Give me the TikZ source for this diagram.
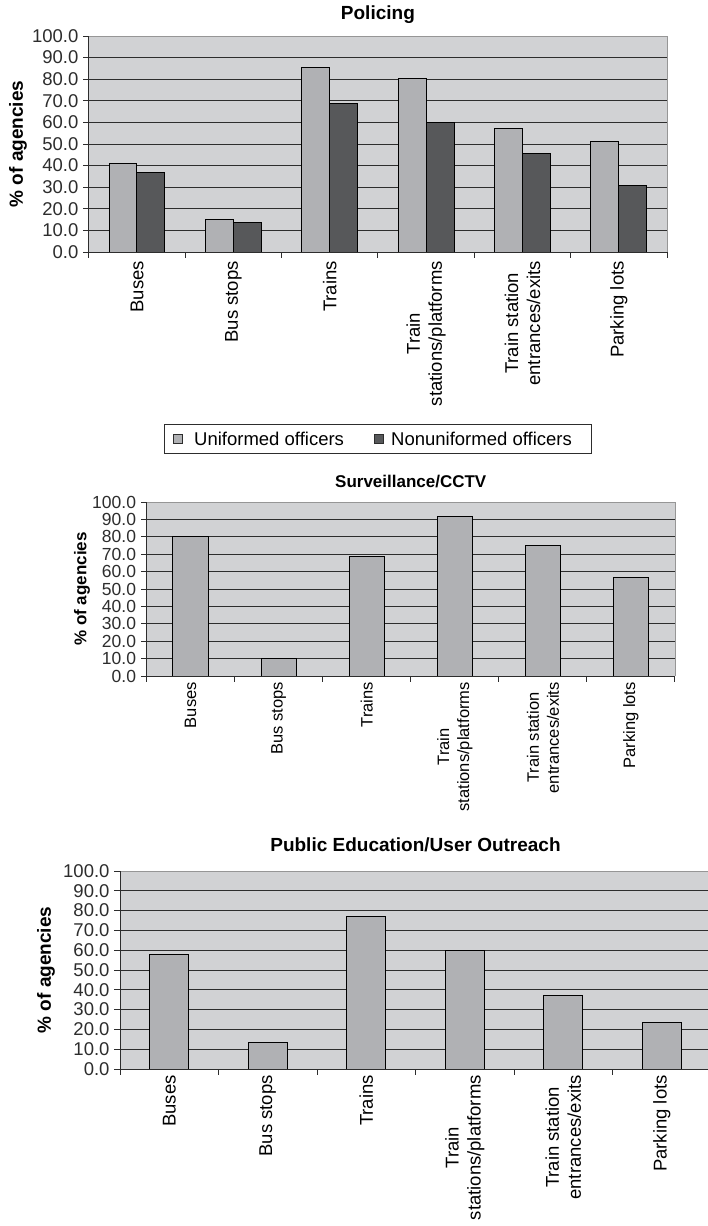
\documentclass[tikz,border=0pt]{standalone}
\usepackage{fontspec}
\setmainfont{Liberation Sans}
\usetikzlibrary{calc}
\definecolor{plotbg}{RGB}{209,210,212}
\definecolor{unibar}{RGB}{176,177,180}
\definecolor{nonbar}{RGB}{87,88,90}
\definecolor{gridln}{RGB}{45,45,45}
\definecolor{frameln}{RGB}{150,150,150}
\tikzset{
  plotarea/.style={fill=plotbg},
  gridline/.style={gridln, line width=.9pt},
  frameline/.style={frameln, line width=.9pt},
  axisline/.style={gridln, line width=1pt},
  bar/.style={draw=black, line width=1pt},
  ticklab/.style={left, inner sep=0pt, xshift=-4pt},
  catlab/.style={rotate=90, anchor=east, align=center, inner sep=0pt},
  ylab/.style={rotate=90, inner sep=0pt},
  bigtxt/.style={font=\fontsize{18.5}{22}\selectfont},
  smalltxt/.style={font=\fontsize{16.5}{20}\selectfont},
  bigbold/.style={font=\fontsize{19}{22}\selectfont\bfseries},
  smallbold/.style={font=\fontsize{17}{20}\selectfont\bfseries},
  legkey/.style={draw=gridln, line width=.8pt, minimum size=9pt, inner sep=0pt},
}
\begin{document}
\begin{tikzpicture}[x=1pt, y=1pt]
\useasboundingbox (0,0) rectangle (707,-1226);

% Policing
\begin{scope}[shift={(88.8,-252)}, x=96.37pt, y=2.16pt]
\fill[plotarea] (0,0) rectangle (6,100);
\foreach \v in {10,20,...,90} \draw[gridline] (0,\v) -- (6,\v);
\draw[frameline] (0,100) -- (6,100) -- (6,0);
\foreach \i/\u/\n in {1/40.8/36.9, 2/15.0/13.7, 3/85.6/68.7, 4/80.2/60.0, 5/57.4/45.7, 6/51.2/30.6} {
  \draw[bar, fill=unibar] (\i-.79,0) rectangle (\i-.5,\u);
  \draw[bar, fill=nonbar] (\i-.5,0) rectangle (\i-.21,\n);
}
\draw[axisline] (0,100) -- (0,0) -- (6,0);
\foreach \v in {0,10,...,100}
  \draw[axisline] (0,\v) -- ++(-6pt,0pt) node[ticklab, bigtxt] (p-t\v) {\v.0};
\foreach \i in {0,...,6} \draw[axisline] (\i,0) -- ++(0pt,-6pt);
\foreach \i/\lab in {1/Buses, 2/Bus stops, 3/Trains, 4/{Train\\stations/platforms}, 5/{Train station\\entrances/exits}, 6/Parking lots}
  \node[yshift=-9pt, catlab, bigtxt] (p-c\i) at (\i-.5,0) {\lab};
\node[xshift=-70.8pt, ylab, bigbold] (p-y) at (0,50) {\% of agencies};
\node[yshift=21pt, bigbold] (p-title) at (3,100) {Policing};
\end{scope}

% legend
\node[draw=gridln, line width=.8pt, minimum width=427pt, minimum height=29pt] (leg) at (378,-438.5) {};
\node[legkey, fill=unibar] (leg-k1) at (178,-438.5) {};
\node[right, inner sep=0pt, bigtxt] (leg-t1) at (194,-438.5) {Uniformed officers};
\node[legkey, fill=nonbar] (leg-k2) at (379,-438.5) {};
\node[right, inner sep=0pt, bigtxt] (leg-t2) at (391,-438.5) {Nonuniformed officers};

% Surveillance/CCTV
\begin{scope}[shift={(146.5,-676)}, x=88.08pt, y=1.74pt]
\fill[plotarea] (0,0) rectangle (6,100);
\foreach \v in {10,20,...,90} \draw[gridline] (0,\v) -- (6,\v);
\draw[frameline] (0,100) -- (6,100) -- (6,0);
\foreach \i/\u in {1/80.0, 2/10.0, 3/68.6, 4/91.7, 5/74.8, 6/56.5}
  \draw[bar, fill=unibar] (\i-.7,0) rectangle (\i-.3,\u);
\draw[axisline] (0,100) -- (0,0) -- (6,0);
\foreach \v in {0,10,...,100}
  \draw[axisline] (0,\v) -- ++(-6pt,0pt) node[ticklab, font=\fontsize{17.5}{20}\selectfont] (s-t\v) {\v.0};
\foreach \i in {0,...,6} \draw[axisline] (\i,0) -- ++(0pt,-6pt);
\foreach \i/\lab in {1/Buses, 2/Bus stops, 3/Trains, 4/{Train\\stations/platforms}, 5/{Train station\\entrances/exits}, 6/Parking lots}
  \node[yshift=-6pt, catlab, smalltxt] (s-c\i) at (\i-.5,0) {\lab};
\node[xshift=-64.5pt, ylab, smallbold] (s-y) at (0,50) {\% of agencies};
\node[yshift=20pt, smallbold] (s-title) at (3,100) {Surveillance/CCTV};
\end{scope}

% Public Education/User Outreach
\begin{scope}[shift={(120,-1069)}, x=98.5pt, y=1.98pt]
\fill[plotarea] (0,0) rectangle (6,100);
\foreach \v in {10,20,...,90} \draw[gridline] (0,\v) -- (6,\v);
\draw[frameline] (0,100) -- (6,100);
\foreach \i/\u in {1/57.6, 2/13.5, 3/77.0, 4/60.0, 5/37.2, 6/23.6}
  \draw[bar, fill=unibar] (\i-.7,0) rectangle (\i-.3,\u);
\draw[axisline] (0,100) -- (0,0) -- (6,0);
\foreach \v in {0,10,...,100}
  \draw[axisline] (0,\v) -- ++(-6pt,0pt) node[ticklab, bigtxt] (e-t\v) {\v.0};
\foreach \i in {0,...,6} \draw[axisline] (\i,0) -- ++(0pt,-6pt);
\foreach \i/\lab in {1/Buses, 2/Bus stops, 3/Trains, 4/{Train\\stations/platforms}, 5/{Train station\\entrances/exits}, 6/Parking lots}
  \node[yshift=-6pt, catlab, bigtxt] (e-c\i) at (\i-.5,0) {\lab};
\node[xshift=-74pt, ylab, bigbold] (e-y) at (0,50) {\% of agencies};
\node[yshift=26pt, bigbold] (e-title) at (3,100) {Public Education/User Outreach};
\end{scope}
\end{tikzpicture}
\end{document}
